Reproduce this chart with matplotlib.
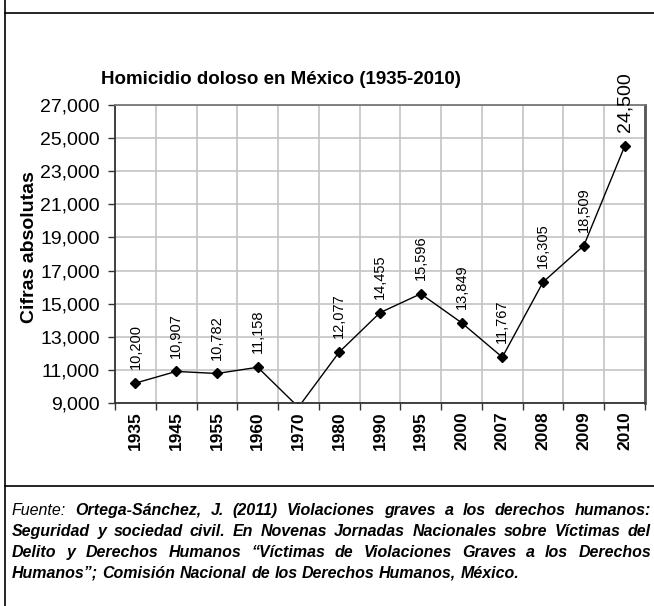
import numpy as np
import matplotlib
matplotlib.use('Agg')
import matplotlib.pyplot as plt
from matplotlib.lines import Line2D
from matplotlib.ticker import FuncFormatter, FixedLocator

# Datos
anios = ['1935', '1945', '1955', '1960', '1970', '1980', '1990',
         '1995', '2000', '2007', '2008', '2009', '2010']
homicidios = [10200, 10907, 10782, 11158, 8750, 12077, 14455,
              15596, 13849, 11767, 16305, 18509, 24500]
etiquetas = ['10,200', '10,907', '10,782', '11,158', '', '12,077', '14,455',
             '15,596', '13,849', '11,767', '16,305', '18,509', '24,500']

titulo = 'Homicidio doloso en México (1935-2010)'
eje_y = 'Cifras absolutas'
fuente = [
    'Fuente: Ortega-Sánchez, J. (2011) Violaciones graves a los derechos humanos:',
    'Seguridad y sociedad civil. En Novenas Jornadas Nacionales sobre Víctimas del',
    'Delito y Derechos Humanos “Víctimas de Violaciones Graves a los Derechos',
    'Humanos”; Comisión Nacional de los Derechos Humanos, México.',
]

plt.rcParams['font.family'] = ['Liberation Sans', 'DejaVu Sans']

W, H = 654, 606
fig = plt.figure(figsize=(W / 100, H / 100), dpi=100)
ax = fig.add_axes([115 / W, 1 - 403 / H, 530 / W, 298 / H])

x = np.arange(len(anios))
ymin, ymax = 9000, 27000

# grilla
ax.set_xlim(-0.5, len(anios) - 0.5)
ax.set_ylim(ymin, ymax)
ax.set_yticks(np.arange(ymin, ymax + 1, 2000))
ax.yaxis.set_major_formatter(FuncFormatter(lambda v, p: f'{int(v):,}'))
ax.set_xticks(x)
ax.set_xticklabels(anios, rotation=90, fontweight='bold', fontsize=12.5)
ax.xaxis.set_minor_locator(FixedLocator(np.arange(-0.5, len(anios), 1.0)))
ax.tick_params(axis='x', which='major', length=0, pad=6)
ax.tick_params(axis='x', which='minor', length=5, width=1, color='#333333', direction='out')
ax.tick_params(axis='y', length=5, width=1, color='#333333', labelsize=14, pad=6)
ax.grid(True, axis='y', color='#c4c4c4', lw=1.2)
ax.grid(True, axis='x', which='minor', color='#c4c4c4', lw=1.2)
ax.set_axisbelow(True)

for lado in ['left', 'bottom']:
    ax.spines[lado].set_color('#333333')
    ax.spines[lado].set_linewidth(1.3)
ax.spines['top'].set_color('#777777')
ax.spines['top'].set_linewidth(1.3)
ax.spines['right'].set_color('#555555')
ax.spines['right'].set_linewidth(2)

# serie
ax.plot(x, homicidios, color='black', lw=1, marker='D', ms=5, clip_on=True)

# etiquetas de datos
for xi, v, txt in zip(x, homicidios, etiquetas):
    if v < ymin or not txt:
        continue
    ax.annotate(txt, (xi, v), xytext=(0, 10), textcoords='offset points',
                rotation=90, ha='center', va='bottom',
                fontsize=14 if v == max(homicidios) else 10.5,
                annotation_clip=False)

ax.set_ylabel(eje_y, fontsize=14, fontweight='bold')
ax.yaxis.set_label_coords(-0.145, 0.523)

fig.text(281 / W, 1 - 80 / H, titulo, ha='center', va='center',
         fontsize=13.5, fontweight='bold')

# recuadro
lw_caja = 1.2
fig.add_artist(Line2D([5.5 / W, 5.5 / W], [0, 1], transform=fig.transFigure, color='black', lw=lw_caja))
fig.add_artist(Line2D([5.5 / W, 1], [1 - 13 / H, 1 - 13 / H], transform=fig.transFigure, color='black', lw=lw_caja))
fig.add_artist(Line2D([5.5 / W, 1], [1 - 486 / H, 1 - 486 / H], transform=fig.transFigure, color='black', lw=lw_caja))

# texto de la fuente, justificado
fig.canvas.draw()
r = fig.canvas.get_renderer()
izq, der = 12, 651
for i, linea in enumerate(fuente):
    y = 1 - (515 + i * 21) / H
    palabras = linea.split()
    textos = []
    for p in palabras:
        peso = 'normal' if p == 'Fuente:' else 'bold'
        textos.append(fig.text(0, y, p, style='italic', fontweight=peso,
                               fontsize=11.5, va='baseline', ha='left'))
    anchos = [t.get_window_extent(r).width for t in textos]
    if i < len(fuente) - 1:
        hueco = (der - izq - sum(anchos)) / (len(palabras) - 1)
    else:
        hueco = 4.5
    xp = izq
    for t, a in zip(textos, anchos):
        t.set_x(xp / W)
        xp += a + hueco

fig.savefig('out.png', dpi=100)
